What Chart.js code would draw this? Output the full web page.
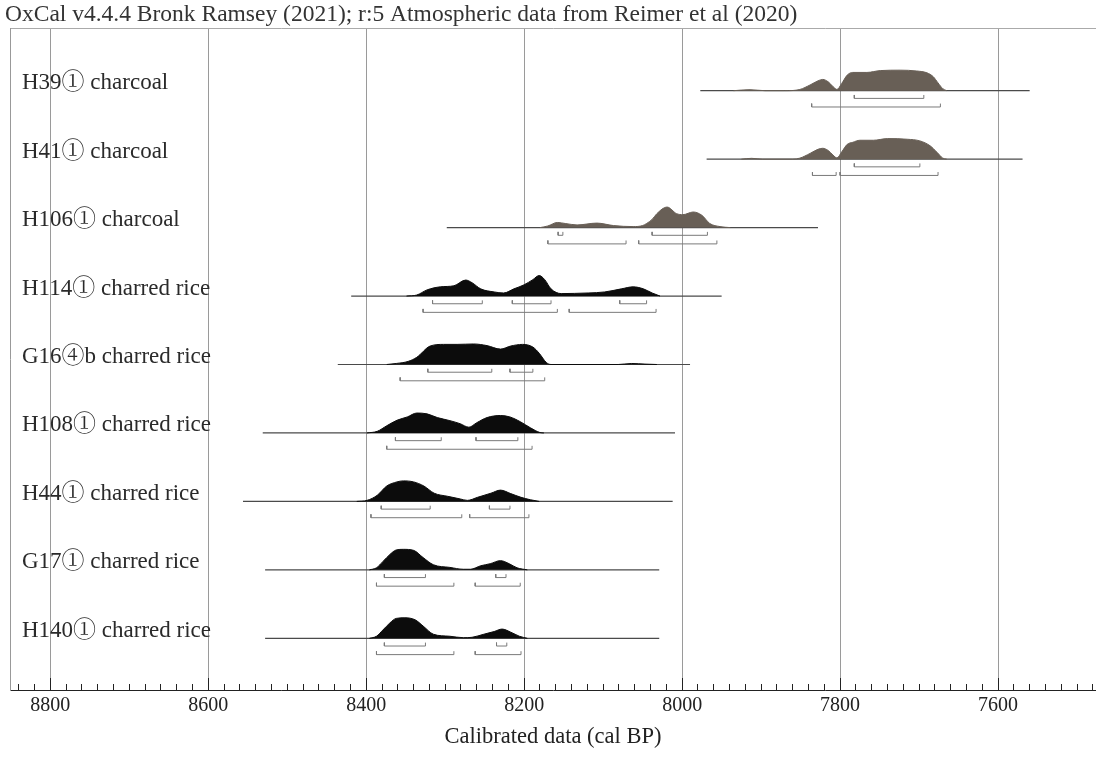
<!DOCTYPE html>
<html><head><meta charset="utf-8">
<script src="https://cdn.jsdelivr.net/npm/chart.js@4.4.1/dist/chart.umd.min.js"></script>
<style>html,body{margin:0;padding:0;background:#fff;}#wrap{width:1096px;height:757px;}</style>
</head><body><div id="wrap"><canvas id="c" width="1096" height="757"></canvas></div>
<script>
// ---- data ----
const sampleLabels = ['H39① charcoal','H41① charcoal','H106① charcoal','H114① charred rice','G16④b charred rice','H108① charred rice','H44① charred rice','G17① charred rice','H140① charred rice'];
const sampleMaterial = ['charcoal','charcoal','charcoal','rice','rice','rice','rice','rice','rice'];

const h39Years = [7935,7914,7895,7870,7851,7838,7828,7822,7815,7809,7804,7798,7791,7784,7766,7749,7724,7703,7690,7682,7676,7670,7665];
const h39Prob  = [0,0.05,0,0,0.06,0.28,0.48,0.55,0.43,0.2,0.06,0.35,0.76,0.89,0.89,0.98,1.0,0.96,0.87,0.68,0.38,0.1,0];
const h41Years = [7925,7912,7898,7860,7851,7838,7828,7822,7815,7809,7804,7798,7791,7784,7775,7758,7740,7715,7699,7686,7677,7670,7665];
const h41Prob  = [0,0.04,0,0,0.05,0.28,0.48,0.53,0.42,0.2,0.06,0.35,0.72,0.82,0.92,0.92,1.0,0.97,0.89,0.65,0.32,0.05,0];
const h106Years = [8180,8170,8158,8148,8133,8108,8087,8062,8050,8045,8038,8032,8019,8007,7999,7986,7975,7965,7952,7939];
const h106Prob  = [0,0.08,0.25,0.2,0.13,0.22,0.1,0.05,0.1,0.2,0.4,0.68,1.0,0.68,0.63,0.76,0.6,0.2,0.05,0];
const h114Years = [8349,8336,8323,8306,8289,8274,8266,8255,8238,8226,8213,8200,8189,8181,8174,8166,8153,8136,8119,8098,8077,8062,8049,8038,8028];
const h114Prob  = [0,0.05,0.3,0.45,0.5,0.78,0.65,0.35,0.2,0.15,0.35,0.55,0.8,1.0,0.8,0.35,0.12,0.13,0.15,0.2,0.35,0.45,0.35,0.15,0];
const g16Years = [8374,8362,8347,8336,8319,8302,8285,8264,8247,8230,8217,8202,8189,8181,8172,8166,8081,8064,8047,8032];
const g16Prob  = [0,0.05,0.15,0.35,0.9,0.98,0.98,1.0,0.92,0.75,0.9,0.98,0.85,0.55,0.1,0,0,0.05,0.02,0];
const h108Years = [8399,8386,8374,8361,8348,8336,8323,8310,8294,8281,8270,8260,8247,8230,8218,8205,8192,8180,8175];
const h108Prob  = [0,0.08,0.35,0.62,0.78,0.97,0.93,0.75,0.6,0.45,0.28,0.5,0.75,0.85,0.78,0.55,0.25,0.02,0];
const h44Years = [8412,8399,8386,8374,8361,8353,8340,8327,8314,8297,8281,8272,8259,8242,8230,8217,8204,8192,8181];
const h44Prob  = [0,0.05,0.3,0.75,0.95,1.0,0.95,0.75,0.4,0.25,0.12,0.05,0.2,0.4,0.55,0.38,0.2,0.08,0];
const g17Years = [8396,8387,8379,8370,8362,8353,8340,8328,8315,8294,8277,8268,8255,8243,8230,8219,8209,8196];
const g17Prob  = [0,0.1,0.4,0.75,0.97,1.0,0.95,0.6,0.25,0.12,0.03,0.03,0.2,0.3,0.45,0.3,0.1,0];
const h140Years = [8396,8387,8379,8370,8362,8351,8338,8328,8315,8294,8277,8266,8251,8238,8228,8217,8206,8196];
const h140Prob  = [0,0.1,0.4,0.75,0.97,1.0,0.9,0.6,0.2,0.1,0.03,0.05,0.2,0.33,0.45,0.3,0.1,0];

const rangeLines = [[7977,7560],[7969,7569],[8298,7828],[8419,7950],[8436,7990],[8531,8009],[8556,8012],[8528,8029],[8528,8029]];
const sigma1 = [
  [[7782,7694]],
  [[7782,7699]],
  [[8157,8151],[8038,7968]],
  [[8316,8253],[8215,8166],[8079,8045]],
  [[8322,8241],[8218,8189]],
  [[8363,8305],[8261,8208]],
  [[8381,8319],[8244,8218]],
  [[8377,8325],[8236,8223]],
  [[8377,8325],[8235,8222]]
];
const sigma2 = [
  [[7836,7673]],
  [[7835,7805],[7800,7676]],
  [[8170,8071],[8055,7956]],
  [[8328,8158],[8143,8033]],
  [[8357,8174]],
  [[8374,8190]],
  [[8394,8279],[8269,8194]],
  [[8387,8289],[8262,8205]],
  [[8387,8289],[8262,8204]]
];
const majorTicks = [8800,8600,8400,8200,8000,7800,7600];
const minorTicks = [];
for (let v = 8840; v >= 7480; v -= 20) minorTicks.push(v);

const distYears = [h39Years,h41Years,h106Years,h114Years,g16Years,h108Years,h44Years,g17Years,h140Years];
const distProb  = [h39Prob,h41Prob,h106Prob,h114Prob,g16Prob,h108Prob,h44Prob,g17Prob,h140Prob];

// ---- layout/style constants ----
const X_MIN = 7476, X_MAX = 8851;
const Y_MIN = -0.916, Y_MAX = 8.755;
const PEAK = 0.3, S1_OFF = 0.1125, S2_OFF = 0.238, CAP = 0.05, LABEL_OFF = -0.11;
const FONT = "'Liberation Serif','Times New Roman',serif";
const LABEL_FONT = "'Liberation Serif','Noto Serif CJK SC','Noto Sans CJK SC',serif";
const colours = {charcoal: '#685f56', rice: '#0c0c0c'};

const datasets = [];
sampleLabels.forEach((name, i) => {
  const col = colours[sampleMaterial[i]];
  datasets.push({
    data: distYears[i].map((x, k) => ({x, y: i - distProb[i][k] * PEAK})),
    borderColor: col, backgroundColor: col, borderWidth: 1, pointRadius: 0,
    fill: {value: i}, cubicInterpolationMode: 'monotone'
  });
  datasets.push({
    data: [{x: rangeLines[i][0], y: i}, {x: rangeLines[i][1], y: i}],
    borderColor: '#4a4a4a', borderWidth: 1.2, pointRadius: 0, fill: false
  });
  [[sigma1[i], S1_OFF], [sigma2[i], S2_OFF]].forEach(([ranges, off]) => {
    const lvl = i + off, pts = [];
    ranges.forEach(([a, b]) => {
      pts.push({x: a, y: lvl - CAP}, {x: a, y: lvl}, {x: b, y: lvl}, {x: b, y: lvl - CAP}, {x: b, y: null});
    });
    datasets.push({data: pts, borderColor: '#7a7a7a', borderWidth: 1, pointRadius: 0, fill: false, spanGaps: false});
  });
});

new Chart(document.getElementById('c'), {
  type: 'line',
  data: {datasets},
  options: {
    responsive: false, animation: false, devicePixelRatio: 1,
    layout: {padding: {left: 5, right: 0, top: 0, bottom: 0}},
    plugins: {
      legend: {display: false}, tooltip: {enabled: false},
      title: {display: true, align: 'start', text: 'OxCal v4.4.4 Bronk Ramsey (2021); r:5 Atmospheric data from Reimer et al (2020)',
        font: {family: FONT, size: 23.5, weight: 'normal', lineHeight: 1}, color: '#333', padding: {top: 3, bottom: 1.5}}
    },
    scales: {
      x: {
        type: 'linear', position: 'bottom', min: X_MIN, max: X_MAX, reverse: true, weight: 1,
        afterBuildTicks: s => { s.ticks = majorTicks.map(v => ({value: v})); },
        ticks: {callback: v => String(v), font: {family: FONT, size: 20}, color: '#222', padding: 16, autoSkip: false, maxRotation: 0},
        grid: {color: '#9a9a9a', tickColor: '#222', tickLength: -12, lineWidth: 1},
        border: {display: true, color: '#222', width: 1},
        title: {display: true, text: 'Calibrated data (cal BP)', font: {family: FONT, size: 22.5}, color: '#222', padding: {top: 0, bottom: 6}},
        afterFit: s => { s.height = 67; }
      },
      xMinor: {
        type: 'linear', position: 'bottom', min: X_MIN, max: X_MAX, reverse: true, weight: 0,
        afterBuildTicks: s => { s.ticks = minorTicks.map(v => ({value: v})); },
        ticks: {display: false},
        grid: {drawOnChartArea: false, drawTicks: true, tickLength: -6, color: '#222', tickColor: '#222'},
        border: {display: false},
        afterFit: s => { s.height = 0; }
      },
      xTop: {
        type: 'linear', position: 'top', min: X_MIN, max: X_MAX, reverse: true,
        ticks: {display: false}, grid: {display: false},
        border: {display: true, color: '#aaa', width: 1},
        afterFit: s => { s.height = 0; }
      },
      y: {
        type: 'linear', min: Y_MIN, max: Y_MAX, reverse: true,
        afterBuildTicks: s => { s.ticks = sampleLabels.map((_, i) => ({value: i + LABEL_OFF})); },
        ticks: {mirror: true, padding: 12, autoSkip: false, callback: (v, idx) => sampleLabels[idx],
          font: {family: LABEL_FONT, size: 23}, color: '#2a2a2a'},
        grid: {display: false},
        border: {display: true, color: '#999', width: 1},
        afterFit: s => { s.width = 5; }
      }
    }
  }
});
</script></body></html>
